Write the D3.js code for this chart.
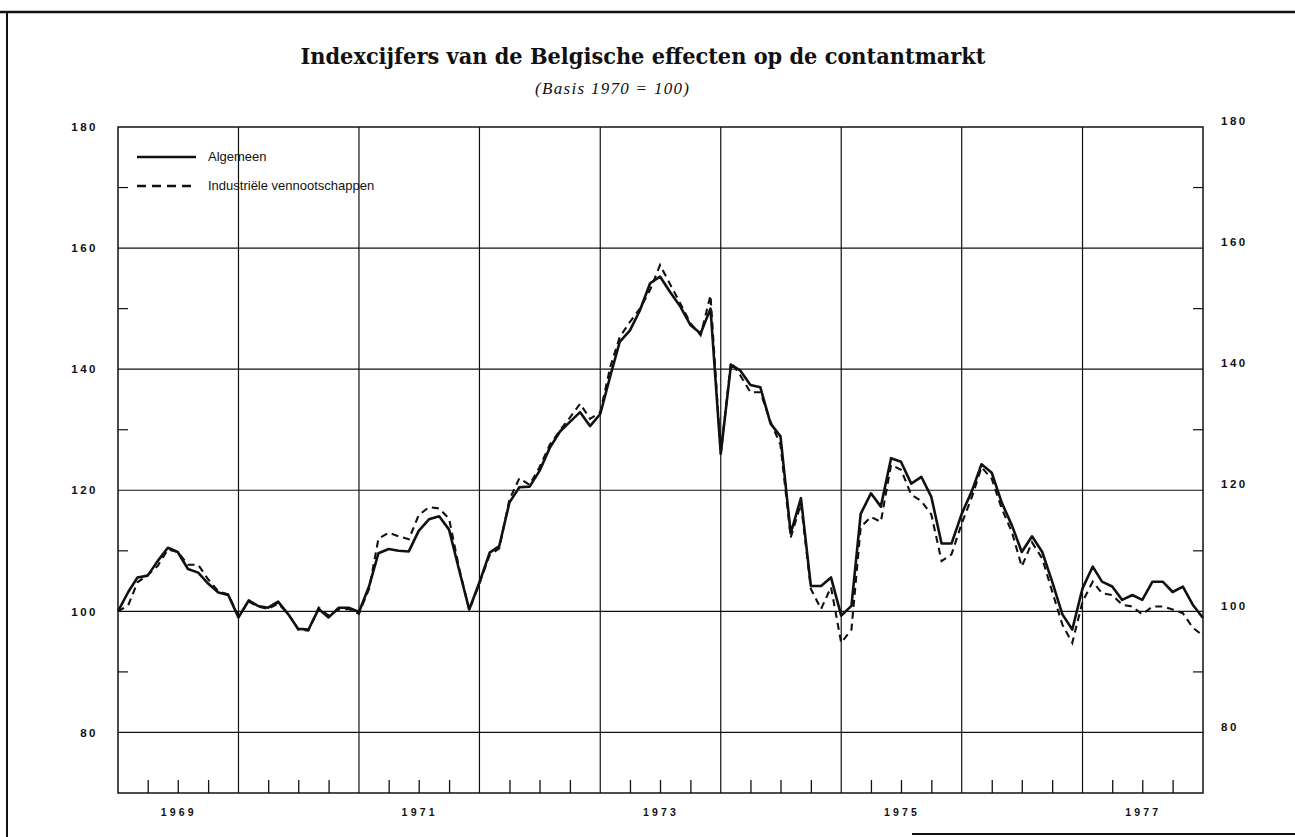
<!DOCTYPE html>
<html>
<head>
<meta charset="utf-8">
<script src="https://cdn.jsdelivr.net/npm/d3@7"></script>
<style>
  html, body { margin: 0; padding: 0; background: #fff; }
  svg { display: block; }
</style>
</head>
<body>
<svg id="chart" width="1295" height="837"></svg>
<script>
// ---- Data (monthly, end-of-month, first point = end of Dec 1968) ----
const algemeen = [
  100.0, 103.2, 105.6, 105.9, 108.3, 110.5, 109.8, 107.0, 106.4, 104.6, 103.1, 102.7,
  99.0, 101.8, 100.9, 100.6, 101.6, 99.5, 97.1, 97.0, 100.4, 99.0, 100.6, 100.6,
  99.9, 104.2, 109.6, 110.3, 110.0, 109.9, 113.3, 115.2, 115.7, 113.5, 106.7, 100.3,
  104.8, 109.7, 110.8, 118.0, 120.5, 120.6, 123.2, 127.0, 129.7, 131.3, 132.9, 130.6,
  132.6, 139.0, 144.5, 146.4, 149.7, 154.2, 155.3, 152.7, 150.3, 147.3, 145.9, 150.0,
  126.0, 140.7, 139.8, 137.4, 137.0, 131.0, 128.9, 112.9, 118.7, 104.2, 104.2, 105.6,
  99.3, 100.9, 116.1, 119.5, 117.3, 125.3, 124.7, 121.1, 122.2, 118.9, 111.2, 111.2,
  116.1, 119.9, 124.3, 122.9, 118.0, 114.2, 109.8, 112.4, 109.8, 104.9, 99.5, 97.0,
  103.8, 107.4, 104.9, 104.1, 101.9, 102.7, 101.9, 104.9, 104.9, 103.2, 104.1, 101.1,
  98.9
];
const industriele = [
  100.0, 101.0, 104.8, 106.0, 107.5, 110.2, 109.8, 107.7, 107.7, 105.3, 103.3, 102.8,
  99.2, 101.6, 100.8, 100.4, 101.3, 99.6, 97.0, 96.8, 100.6, 99.3, 100.3, 100.4,
  99.6, 103.8, 112.0, 113.0, 112.4, 111.9, 115.9, 117.2, 117.0, 115.3, 107.0, 100.2,
  104.6, 109.3, 110.4, 118.5, 122.0, 120.9, 123.8, 127.5, 129.9, 132.0, 134.3, 131.8,
  132.9, 140.5, 145.3, 147.8, 150.0, 153.1, 157.2, 154.0, 150.8, 147.6, 145.6, 152.2,
  126.0, 141.2, 139.0, 136.2, 136.2, 131.3, 127.5, 112.2, 117.8, 103.7, 100.4, 104.0,
  94.8, 97.0, 113.9, 115.6, 114.8, 124.2, 123.4, 119.3, 118.2, 116.0, 108.3, 109.4,
  114.5, 118.9, 123.8, 121.9, 117.0, 113.1, 107.4, 111.4, 108.7, 103.3, 97.8, 94.8,
  101.6, 104.9, 103.0, 102.7, 101.1, 100.8, 99.5, 100.8, 100.8, 100.3, 99.7, 97.3,
  96.0
];
const yearLabels = ["1969", "1971", "1973", "1975", "1977"];
const yTicks = [80, 100, 120, 140, 160, 180];
const yMinorTicks = [90, 110, 130, 150, 170];
const seriesNames = ["Algemeen", "Industriële vennootschappen"];
const titleText = "Indexcijfers van de Belgische effecten op de contantmarkt";
const subtitleText = "(Basis 1970 = 100)";

// ---- Layout ----
const svg = d3.select("#chart");
const L = 118, R = 1203, T = 127, B = 793;
const ink = "#111";

const x = d3.scaleTime()
  .domain([new Date(1969, 0, 1), new Date(1978, 0, 1)])
  .range([L, R]);
const y = d3.scaleLinear().domain([70, 180]).range([B, T]);

const dateAt = i => new Date(1969, i, 1);

// ---- Outer frame (partial, as scanned) ----
svg.append("line").attr("x1", 0).attr("x2", 1295).attr("y1", 12).attr("y2", 12)
  .attr("stroke", ink).attr("stroke-width", 2.5);
svg.append("line").attr("x1", 7).attr("x2", 7).attr("y1", 12).attr("y2", 837)
  .attr("stroke", ink).attr("stroke-width", 2);
svg.append("line").attr("x1", 912).attr("x2", 1295).attr("y1", 834).attr("y2", 834)
  .attr("stroke", ink).attr("stroke-width", 2);

// ---- Title ----
svg.append("text")
  .attr("x", 643).attr("y", 64)
  .attr("text-anchor", "middle")
  .attr("font-family", "'DejaVu Serif', 'Liberation Serif', serif")
  .attr("font-weight", "bold")
  .attr("font-size", 23)
  .attr("textLength", 685).attr("lengthAdjust", "spacingAndGlyphs")
  .attr("fill", ink)
  .text(titleText);
svg.append("text")
  .attr("x", 612).attr("y", 94)
  .attr("text-anchor", "middle")
  .attr("font-family", "'Liberation Serif', 'DejaVu Serif', serif")
  .attr("font-style", "italic")
  .attr("font-size", 17)
  .attr("textLength", 154).attr("lengthAdjust", "spacing")
  .attr("fill", ink)
  .text(subtitleText);

// ---- Gridlines ----
const grid = svg.append("g").attr("stroke", ink).attr("stroke-width", 1.2);
grid.selectAll(".hg").data(yTicks.filter(v => v > 70 && v < 180)).join("line")
  .attr("x1", L).attr("x2", R)
  .attr("y1", d => y(d)).attr("y2", d => y(d));
const yearLines = d3.range(1970, 1978).map(yr => new Date(yr, 0, 1));
grid.selectAll(".vg").data(yearLines).join("line")
  .attr("x1", d => x(d)).attr("x2", d => x(d))
  .attr("y1", T).attr("y2", B);

// ---- Axes ----
const axisFont = "'Liberation Sans', Arial, sans-serif";
const leftAxis = d3.axisLeft(y).tickValues(yTicks).tickSize(0).tickPadding(20);
const gl = svg.append("g").attr("transform", `translate(${L},0)`).call(leftAxis);
gl.select(".domain").remove();
gl.selectAll("text").attr("font-family", axisFont).attr("font-size", 11.5)
  .attr("font-weight", "bold").attr("letter-spacing", 2.5).attr("fill", ink);

const rightAxis = d3.axisRight(y).tickValues(yTicks).tickSize(0).tickPadding(18);
const gr = svg.append("g").attr("transform", `translate(${R},-6)`).call(rightAxis);
gr.select(".domain").remove();
gr.selectAll("text").attr("font-family", axisFont).attr("font-size", 11.5)
  .attr("font-weight", "bold").attr("letter-spacing", 2.5).attr("fill", ink);

// minor ticks left & right
const minor = svg.append("g").attr("stroke", ink).attr("stroke-width", 1.2);
minor.selectAll(".ml").data(yMinorTicks).join("line")
  .attr("x1", L).attr("x2", L + 10).attr("y1", d => y(d)).attr("y2", d => y(d));
minor.selectAll(".mr").data(yMinorTicks).join("line")
  .attr("x1", R - 10).attr("x2", R).attr("y1", d => y(d)).attr("y2", d => y(d));

// bottom quarter ticks
const quarterTicks = [];
for (let yr = 1969; yr <= 1977; yr++) [3, 6, 9].forEach(m => quarterTicks.push(new Date(yr, m, 1)));
const bottomAxis = d3.axisBottom(x).tickValues(quarterTicks).tickSize(-13).tickFormat("");
const gb = svg.append("g").attr("transform", `translate(0,${B})`).call(bottomAxis);
gb.select(".domain").remove();
gb.selectAll("line").attr("stroke", ink).attr("stroke-width", 1.3);

// year labels
svg.append("g").selectAll("text").data(yearLabels).join("text")
  .attr("x", d => x(new Date(+d, 6, 1)) + 1)
  .attr("y", 816)
  .attr("text-anchor", "middle")
  .attr("font-family", axisFont).attr("font-size", 10.5).attr("font-weight", "bold")
  .attr("letter-spacing", 3.2)
  .attr("fill", ink)
  .text(d => d);

// plot frame
svg.append("rect").attr("x", L).attr("y", T).attr("width", R - L).attr("height", B - T)
  .attr("fill", "none").attr("stroke", ink).attr("stroke-width", 1.5);

// ---- Series ----
const line = d3.line().x((d, i) => x(dateAt(i))).y(d => y(d));
svg.append("path").datum(industriele)
  .attr("d", line).attr("fill", "none").attr("stroke", ink)
  .attr("stroke-width", 2.1).attr("stroke-dasharray", "7,5");
svg.append("path").datum(algemeen)
  .attr("d", line).attr("fill", "none").attr("stroke", ink)
  .attr("stroke-width", 2.6).attr("stroke-linejoin", "round");

// ---- Legend ----
const lg = svg.append("g");
lg.append("line").attr("x1", 137).attr("x2", 196).attr("y1", 157).attr("y2", 157)
  .attr("stroke", ink).attr("stroke-width", 2.6);
lg.append("line").attr("x1", 137).attr("x2", 196).attr("y1", 186).attr("y2", 186)
  .attr("stroke", ink).attr("stroke-width", 2.4).attr("stroke-dasharray", "9,6");
lg.selectAll("text").data(seriesNames).join("text")
  .attr("x", 208).attr("y", (d, i) => 161 + i * 29)
  .attr("font-family", axisFont).attr("font-size", 13).attr("fill", ink)
  .text(d => d);
</script>
</body>
</html>
